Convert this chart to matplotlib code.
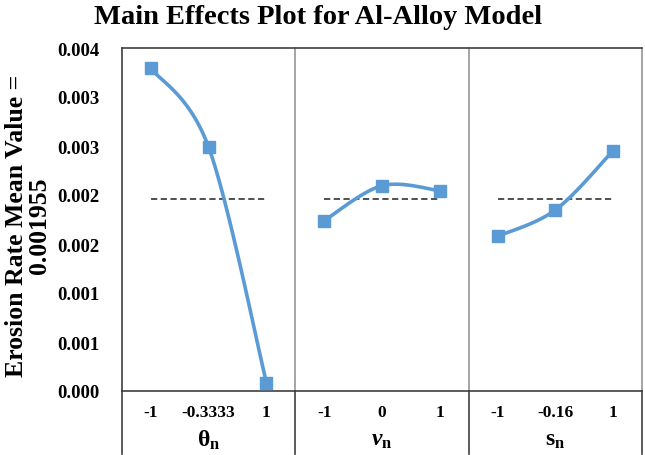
import matplotlib
matplotlib.use("Agg")
import matplotlib.pyplot as plt
import numpy as np

# ---------------- data ----------------
factor_names = [r"$\mathbf{θ}_\mathbf{n}$", r"$\mathbfit{ν}_\mathbf{n}$", r"$\mathbf{s}_\mathbf{n}$"]
theta_levels = ["-1", "-0.3333", "1"]
nu_levels = ["-1", "0", "1"]
s_levels = ["-1", "-0.16", "1"]
theta_means = [0.003293, 0.002487, 0.000085]
nu_means = [0.001738, 0.002095, 0.002044]
s_means = [0.001579, 0.001847, 0.002452]
overall_mean = 0.001955
y_tick_values = [0.0, 0.0005, 0.0010, 0.0015, 0.0020, 0.0025, 0.0030, 0.0035]
y_tick_labels = ["0.000", "0.001", "0.001", "0.002", "0.002", "0.003", "0.003", "0.004"]
title = "Main Effects Plot for Al-Alloy Model"
y_label = "Erosion Rate Mean Value =\n0.001955"

# ---------------- style ----------------
plt.rcParams["font.family"] = ["Liberation Serif", "DejaVu Serif"]
plt.rcParams["mathtext.fontset"] = "custom"
plt.rcParams["mathtext.bf"] = "Liberation Serif:bold"
plt.rcParams["mathtext.rm"] = "Liberation Serif"
plt.rcParams["mathtext.it"] = "Liberation Serif:italic"
plt.rcParams["mathtext.bfit"] = "Liberation Serif:bold:italic"
plt.rcParams["lines.scale_dashes"] = False

blue = "#5B9BD5"
dark = "#404040"
grey = "#8c8c8c"

W, H = 645, 456
fig = plt.figure(figsize=(W / 100, H / 100), dpi=100)
L, R, T, B = 122, 642, 49, 392
ax = fig.add_axes([L / W, 1 - B / H, (R - L) / W, (B - T) / H])


def smooth(xs, ys, n=60):
    """Excel-like smoothed line (Catmull-Rom style cubic Bezier)."""
    P = np.column_stack([xs, ys]).astype(float)
    out = []
    m = len(P)
    for i in range(m - 1):
        p0 = P[i - 1] if i > 0 else P[i]
        p1 = P[i]
        p2 = P[i + 1]
        p3 = P[i + 2] if i + 2 < m else P[i + 1]
        c1 = p1 + (p2 - p0) / 6.0
        c2 = p2 - (p3 - p1) / 6.0
        t = np.linspace(0, 1, n)[:, None]
        seg = ((1 - t) ** 3) * p1 + 3 * ((1 - t) ** 2) * t * c1 + 3 * (1 - t) * t ** 2 * c2 + t ** 3 * p2
        out.append(seg if i == 0 else seg[1:])
    S = np.vstack(out)
    return S[:, 0], S[:, 1]


groups = [(theta_levels, theta_means), (nu_levels, nu_means), (s_levels, s_means)]
xt = ax.get_xaxis_transform()
for g, (levels, means) in enumerate(groups):
    xs = g * 3 + 0.5 + np.arange(len(levels))
    ax.hlines(overall_mean, xs[0], xs[-1], colors="#202020", linewidth=1.1,
              linestyles=(0, (4.5, 2.5)), zorder=2)
    sx, sy = smooth(xs, means)
    ax.plot(sx, sy, color=blue, linewidth=2.6, solid_capstyle="round", zorder=3)
    ax.plot(xs, means, linestyle="none", marker="s", markersize=8,
            color=blue, markeredgecolor=blue, zorder=4)
    for x, lab in zip(xs, levels):
        ax.text(x, -0.061, lab, transform=xt, ha="center", va="center",
                fontsize=12.5, fontweight="bold", clip_on=False)
    ax.text(g * 3 + 1.5, -0.142, factor_names[g], transform=xt, ha="center",
            va="center", fontsize=17, clip_on=False)

ax.set_xlim(0, 9)
ax.set_ylim(0, 0.0035)
ax.set_xticks([])
ax.set_yticks(y_tick_values)
ax.set_yticklabels(y_tick_labels, fontsize=13.5, fontweight="bold")
ax.tick_params(axis="y", length=0, pad=16)

for s in ["top", "left", "bottom"]:
    ax.spines[s].set_color(dark)
    ax.spines[s].set_linewidth(1.2)
ax.spines["right"].set_visible(False)

bot = (B - 455) / (B - T)
# internal dividers (grey above axis, dark below)
for xd in [3, 6]:
    ax.plot([xd, xd], [0, 1], transform=xt, color=grey, linewidth=1.1, clip_on=False)
    ax.plot([xd, xd], [bot, 0], transform=xt, color=dark, linewidth=1.2, clip_on=False)
ax.plot([9, 9], [0, 1], transform=xt, color=grey, linewidth=1.1, clip_on=False)
ax.plot([9, 9], [bot, 0], transform=xt, color=dark, linewidth=1.2, clip_on=False)
ax.plot([0, 0], [bot, 0], transform=xt, color=dark, linewidth=1.2, clip_on=False)

fig.text(318 / W, 1 - 18 / H, title, ha="center", va="center", fontsize=20.5, fontweight="bold")
fig.text(28 / W, 1 - 226 / H, y_label, rotation=90, ha="center", va="center",
         multialignment="center", fontsize=18.5, fontweight="bold", linespacing=1.0)

fig.savefig("out.png", dpi=100)
